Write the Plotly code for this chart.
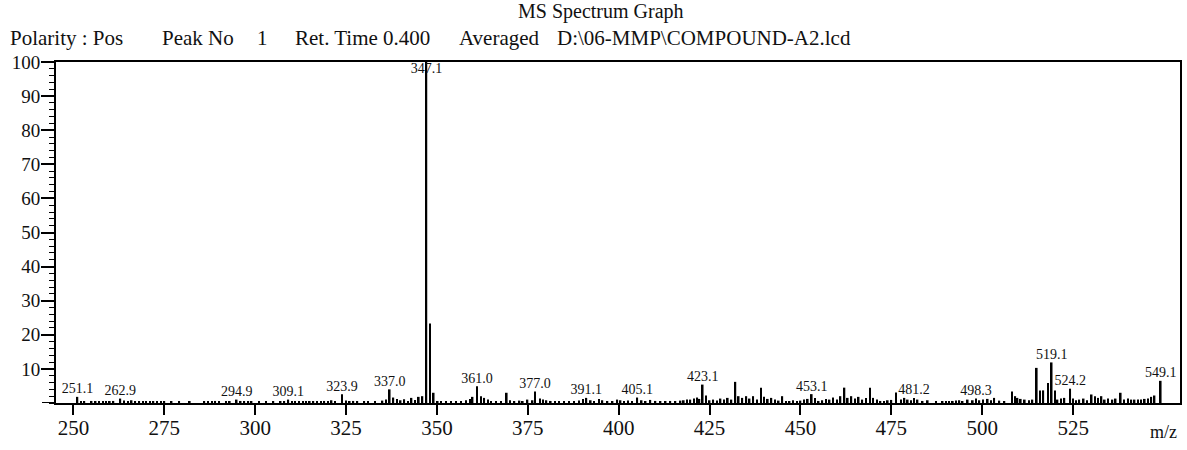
import plotly.graph_objects as go

# ---------------- data ----------------
peak_mz = [
    251.1, 252.1, 253.0, 255.0, 256.1, 257.0, 258.1, 259.0, 260.0, 261.0,
    262.9, 263.9, 265.0, 266.0, 267.0, 268.1, 269.1, 270.0, 271.1, 272.0,
    273.0, 274.1, 275.0, 277.0, 279.1, 282.0, 286.0, 287.0, 288.1, 289.0,
    290.0, 292.0, 293.0, 294.9, 296.0, 297.0, 298.1, 299.0, 301.0, 303.0,
    305.0, 307.0, 308.0, 309.1, 310.1, 311.0, 312.0, 313.1, 314.0, 315.0,
    316.0, 317.0, 318.1, 319.0, 320.0, 321.0, 322.0, 323.9, 325.0, 326.0,
    327.0, 328.1, 330.0, 331.0, 333.0, 335.0, 336.0, 337.0, 338.0, 339.0,
    340.0, 341.0, 342.0, 343.0, 344.0, 345.0, 346.0, 347.1, 348.1, 349.1,
    350.2, 351.1, 352.5, 353.9, 355.2, 356.6, 358.0, 359.1, 359.8, 361.0,
    362.1, 363.0, 364.0, 364.9, 366.2, 367.6, 369.2, 370.1, 371.3, 372.7,
    373.6, 374.9, 376.3, 377.0, 378.3, 379.2, 380.1, 381.3, 382.5, 383.6,
    385.0, 386.3, 387.7, 389.1, 390.2, 391.1, 392.3, 393.2, 394.6, 395.5,
    396.9, 398.3, 399.6, 400.5, 401.4, 402.6, 403.7, 405.1, 406.3, 407.4,
    408.7, 410.1, 411.5, 412.9, 414.2, 415.6, 417.0, 417.9, 418.8, 419.7,
    420.7, 421.6, 422.2, 423.1, 424.0, 425.0, 426.0, 427.0, 428.0, 429.0,
    430.0, 431.0, 432.1, 433.0, 434.0, 435.1, 436.0, 437.0, 438.0, 439.1,
    440.0, 441.0, 442.0, 443.0, 444.0, 445.0, 446.0, 447.0, 448.0, 449.0,
    450.0, 451.0, 452.0, 453.1, 454.0, 455.0, 456.0, 457.0, 458.0, 459.0,
    460.0, 461.0, 462.1, 463.0, 464.0, 465.0, 466.0, 467.0, 468.0, 469.1,
    470.0, 471.0, 472.0, 473.0, 474.0, 475.0, 476.3, 477.7, 478.6, 479.5,
    480.4, 481.2, 482.2, 483.6, 485.0, 487.3, 489.1, 490.0, 490.9, 491.9,
    492.8, 493.7, 494.6, 496.0, 497.4, 498.3, 499.2, 500.2, 501.5, 502.4,
    503.3, 504.7, 506.1, 508.2, 509.1, 509.7, 510.6, 511.7, 512.9, 513.8,
    515.0, 515.9, 516.8, 518.1, 519.1, 520.0, 520.7, 521.7, 522.6, 524.2,
    525.0, 525.8, 526.7, 527.9, 528.8, 530.1, 531.0, 531.9, 532.8, 533.7,
    534.6, 535.8, 536.7, 538.1, 539.0, 540.1, 541.0, 541.9, 542.8, 543.7,
    544.7, 545.6, 546.5, 547.4, 549.1,
]
peak_int = [
    1.8, 0.4, 0.5, 0.6, 0.5, 0.4, 0.6, 0.5, 0.3, 0.6,
    1.3, 0.7, 0.5, 0.8, 0.4, 0.5, 0.3, 0.6, 0.4, 0.5,
    0.4, 0.6, 0.5, 0.5, 0.4, 0.3, 0.5, 0.4, 0.5, 0.6,
    0.4, 0.5, 0.4, 1.0, 0.6, 0.4, 0.5, 0.4, 0.5, 0.4,
    0.3, 0.4, 0.5, 1.0, 0.6, 0.4, 0.5, 0.4, 0.6, 0.4,
    0.5, 0.4, 0.5, 0.6, 0.4, 0.8, 0.6, 2.6, 0.7, 0.5,
    0.6, 0.4, 0.5, 0.4, 0.5, 0.7, 1.0, 4.0, 1.6, 1.2,
    0.8, 1.1, 0.6, 1.5, 0.9, 1.8, 2.0, 100.0, 23.3, 3.0,
    0.5, 0.3, 0.5, 0.4, 0.5, 0.6, 0.8, 1.2, 1.8, 4.9,
    2.0, 1.5, 1.0, 0.6, 0.5, 0.6, 3.0, 0.8, 0.5, 0.7,
    0.5, 1.0, 0.8, 3.4, 1.3, 1.0, 0.8, 0.6, 0.5, 0.4,
    0.5, 0.5, 0.6, 0.7, 1.2, 1.5, 0.8, 0.6, 1.2, 0.8,
    0.5, 0.5, 1.0, 0.8, 0.6, 0.7, 0.5, 1.6, 0.8, 0.5,
    0.9, 0.6, 0.4, 0.5, 0.6, 0.4, 0.7, 0.8, 1.0, 1.0,
    1.3, 1.6, 1.2, 5.4, 2.2, 0.8, 1.0, 0.7, 1.3, 1.0,
    1.5, 1.0, 6.2, 2.0, 1.5, 2.0, 1.3, 2.0, 1.0, 4.5,
    1.8, 1.2, 1.5, 1.0, 0.7, 2.0, 0.6, 0.5, 0.8, 0.5,
    0.7, 1.0, 1.2, 2.6, 1.5, 0.6, 0.8, 1.2, 1.0, 1.6,
    1.0, 2.0, 4.5, 1.5, 2.0, 1.3, 1.8, 1.0, 1.5, 4.5,
    1.5, 1.0, 0.6, 0.5, 0.8, 0.9, 3.1, 1.0, 1.5, 1.0,
    0.8, 1.5, 1.0, 0.6, 0.8, 0.5, 0.5, 0.6, 0.5, 0.6,
    0.7, 0.8, 0.5, 1.0, 0.8, 1.3, 0.8, 1.0, 1.2, 0.8,
    1.5, 0.7, 0.5, 3.4, 2.0, 1.5, 1.2, 1.0, 0.8, 1.0,
    10.3, 3.7, 3.7, 5.9, 11.9, 3.7, 1.0, 1.3, 1.5, 4.2,
    1.3, 0.8, 1.0, 1.3, 0.8, 2.5, 2.0, 1.5, 2.0, 1.0,
    1.3, 1.0, 1.3, 3.0, 1.0, 1.3, 1.0, 1.0, 1.0, 1.0,
    1.2, 1.3, 1.8, 2.2, 6.5,
]
label_text = ["251.1", "262.9", "294.9", "309.1", "323.9", "337.0", "347.1",
              "361.0", "377.0", "391.1", "405.1", "423.1", "453.1", "481.2",
              "498.3", "519.1", "524.2", "549.1"]
x_ticks = [250, 275, 300, 325, 350, 375, 400, 425, 450, 475, 500, 525]
y_ticks = [10, 20, 30, 40, 50, 60, 70, 80, 90, 100]

title_text = "MS Spectrum Graph"
header_parts = ["Polarity : Pos", "Peak No", "1", "Ret. Time 0.400", "Averaged",
                "D:\\06-MMP\\COMPOUND-A2.lcd"]

# ---------------- figure ----------------
W, H = 1187, 450
ML, MR, MT, MB = 56, 5, 62, 47
PW = W - ML - MR
PH = H - MT - MB
SERIF = "Liberation Serif, Times New Roman, serif"
INK = "#111"

def px_x(p):
    return (p - ML) / PW

def px_y(p):
    return (H - MB - p) / PH

lab_x, lab_y, lab_pos = [], [], []
for t in label_text:
    v = float(t)
    i = min(range(len(peak_mz)), key=lambda k: abs(peak_mz[k] - v))
    lab_x.append(peak_mz[i])
    lab_y.append(peak_int[i])
    lab_pos.append("bottom center" if peak_int[i] > 95 else "top center")

fig = go.Figure()
fig.add_trace(go.Bar(x=peak_mz, y=peak_int, width=0.45,
                     marker=dict(color="black", line=dict(width=0)),
                     hoverinfo="x+y", showlegend=False))
fig.add_trace(go.Scatter(x=lab_x, y=lab_y, mode="text", text=label_text,
                         textposition=lab_pos, cliponaxis=False,
                         textfont=dict(family=SERIF, size=14, color=INK),
                         showlegend=False, hoverinfo="skip"))

fig.update_layout(
    width=W, height=H,
    margin=dict(l=ML, r=MR, t=MT, b=MB),
    plot_bgcolor="white", paper_bgcolor="white",
    font=dict(family=SERIF, color=INK),
    xaxis=dict(range=[245.2, 554.4], tickvals=x_ticks, ticks="outside",
               ticklen=10, tickwidth=2, tickcolor="black", ticklabelstandoff=-5,
               showline=True, linecolor="black", linewidth=2, mirror=True,
               showgrid=False, zeroline=False,
               tickfont=dict(family=SERIF, size=21, color=INK)),
    yaxis=dict(range=[0, 100], tickvals=y_ticks, ticks="outside",
               ticklen=13, tickwidth=1.5, tickcolor="black", ticklabelstandoff=-3,
               minor=dict(dtick=2, ticks="outside", ticklen=5, tickwidth=1.2,
                          tickcolor="black", showgrid=False),
               showline=True, linecolor="black", linewidth=2, mirror=True,
               showgrid=False, zeroline=False,
               tickfont=dict(family=SERIF, size=19, color=INK)),
)

fig.add_shape(type="line", xref="paper", yref="y", x0=px_x(42), x1=0, y0=0, y1=0,
              line=dict(color="black", width=2))

fig.add_annotation(text=title_text, xref="paper", yref="paper", x=px_x(602),
                   y=px_y(12), xanchor="center", yanchor="middle", showarrow=False,
                   font=dict(family=SERIF, size=20, color=INK))
header_x = [8, 160, 255, 293, 458, 556]
for t, xp in zip(header_parts, header_x):
    fig.add_annotation(text=t, xref="paper", yref="paper", x=px_x(xp), y=px_y(38),
                       xanchor="left", yanchor="middle", showarrow=False,
                       font=dict(family=SERIF, size=21, color=INK))
fig.add_annotation(text="m/z", xref="paper", yref="paper", x=px_x(1181), y=px_y(432),
                   xanchor="right", yanchor="middle", showarrow=False,
                   font=dict(family=SERIF, size=18, color=INK))

fig.write_html("out.html", config={"displayModeBar": False},
               post_script="document.body.style.margin='0';document.body.style.overflow='hidden';")
